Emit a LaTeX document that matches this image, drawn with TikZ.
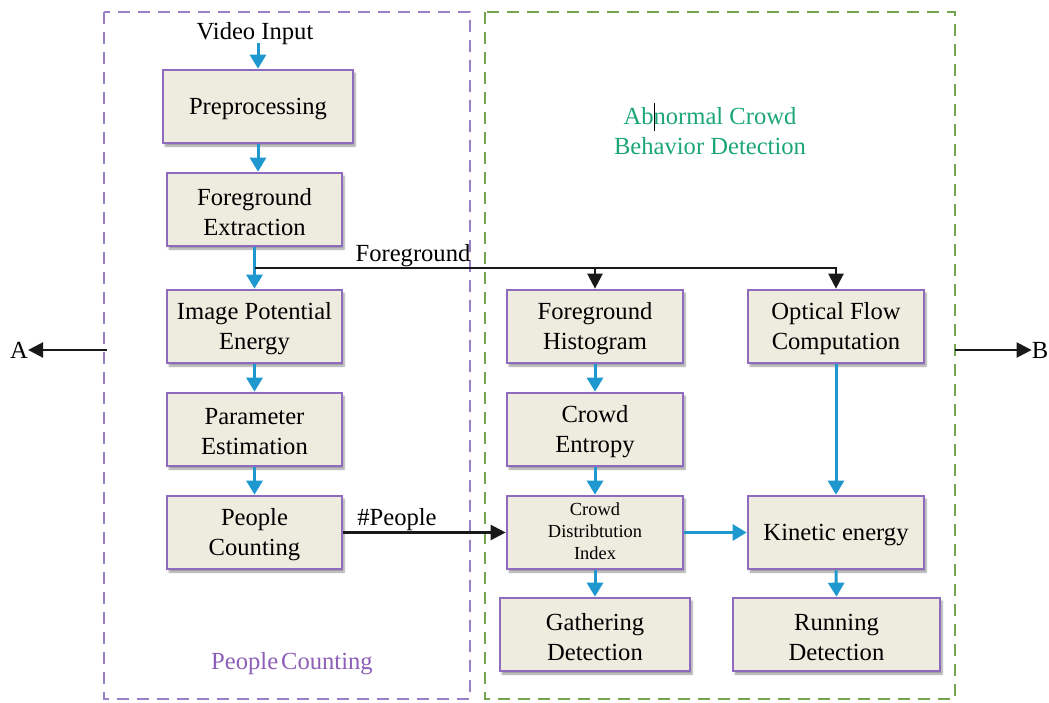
\documentclass[tikz,border=0pt]{standalone}
\usepackage{fontspec}
\setmainfont{Liberation Serif}
\usetikzlibrary{arrows.meta,shadows.blur}
\definecolor{boxfill}{HTML}{EEEBDF}
\definecolor{boxline}{HTML}{8F6BBF}
\definecolor{purpdash}{HTML}{9A80C6}
\definecolor{greendash}{HTML}{76A552}
\definecolor{flowblue}{HTML}{1E98CF}
\definecolor{titlegreen}{HTML}{1BA67A}
\definecolor{titlepurple}{HTML}{8E5FB8}
\tikzset{
  stagebox/.style={draw=boxline, line width=2.7pt, fill=boxfill, inner sep=0pt,
    minimum height=73pt,
    blur shadow={shadow xshift=2pt, shadow yshift=-3pt, shadow blur steps=6, shadow opacity=40}},
  stagetext/.style={align=center, inner sep=0pt, font=\fontsize{24.6}{30}\selectfont},
  group/.style={dashed, dash pattern=on 12pt off 8pt, line width=2.2pt},
  flow/.style={draw=flowblue, line width=3pt, -{Triangle[width=16pt,length=14pt]}},
  link/.style={draw=black!90, line width=2.4pt, -{Triangle[width=15pt,length=15pt]}},
  lbl/.style={font=\fontsize{24.6}{30}\selectfont, inner sep=0pt}
}
% a process box with its caption: [caption shift]{name}{width}{centre}{text}
\newcommand\stagenode[5][yshift=-2.5pt]{%
  \node[stagebox, minimum width=#3] (#2) at (#4) {};
  \node[stagetext, #1] (#2-txt) at (#2.center) {#5};}
\begin{document}
\begin{tikzpicture}[x=1pt,y=-1pt]
\useasboundingbox (0,0) rectangle (1049,702);

% dashed group frames
\draw[group, draw=purpdash] (104,12) rectangle (470,699);
\draw[group, draw=greendash] (485,12) rectangle (955,699);

% group titles
\node[lbl, text=titlepurple] (pctitle) at (292,664) {People\hspace{3pt}Counting};
\node[lbl, text=titlegreen, align=center] (abtitle) at (710,131) {Abnormal Crowd\\Behavior Detection};
\draw[black, line width=0.8pt] (654,103) -- (654,131);

% people counting column
\node[lbl] (vin) at (255,34) {Video Input};
\stagenode{pre}{190pt}{258,106.5}{Preprocessing}
\stagenode{fge}{175pt}{254.5,209.5}{Foreground\\Extraction}
\stagenode{ipe}{175pt}{254.5,326.5}{Image Potential\\Energy}
\stagenode{pes}{175pt}{254.5,429.5}{Parameter\\Estimation}
\stagenode{pcn}{175pt}{254.5,532.5}{People\\Counting}

% abnormal behaviour columns
\stagenode{fgh}{176pt}{595,326.5}{Foreground\\Histogram}
\stagenode{ofc}{176pt}{836,326.5}{Optical Flow\\Computation}
\stagenode{cen}{176pt}{595,429.5}{Crowd\\Entropy}
\stagenode[yshift=1.5pt, font=\fontsize{18.4}{22}\selectfont]{cdi}{176pt}{595,532.5}{Crowd\\Distribtution\\Index}
\stagenode{kin}{176pt}{836,532.5}{Kinetic energy}
\stagenode{gat}{190pt}{595,634.5}{Gathering\\Detection}
\stagenode{run}{207pt}{836.5,634.5}{Running\\Detection}

% outer references
\node[lbl] (na) at (19,350) {A};
\node[lbl] (nb) at (1040,350) {B};
\coordinate (aout) at (107,350);
\coordinate (bout) at (955,350);
\draw[link] (aout) -- (na.east);
\draw[link] (bout) -- (nb.west);

% main flow
\coordinate (vtop) at (258,43);
\draw[flow] (vtop) -- (pre.north);
\draw[flow] (pre.south) -- (pre.south |- fge.north);
\draw[flow] (fge.south) -- (ipe.north);
\draw[flow] (ipe.south) -- (pes.north);
\draw[flow] (pes.south) -- (pcn.north);

% foreground branch
\coordinate (fgj) at (254.5,268);
\draw[link] (fgj) -| (fgh.north);
\draw[link] (fgj) -| (ofc.north);
\node[lbl, anchor=base] (fglbl) at (413,261) {Foreground};

% people count to distribution index
\draw[link] (pcn.east) -- (cdi.west);
\node[lbl, anchor=base] (nplbl) at (397,525) {\#People};

% behaviour flow
\draw[flow] (fgh.south) -- (cen.north);
\draw[flow] (cen.south) -- (cdi.north);
\draw[flow] (cdi.south) -- (gat.north);
\draw[flow] (cdi.east) -- (kin.west);
\draw[flow] (ofc.south) -- (kin.north);
\draw[flow] (kin.south) -- (run.north);
\end{tikzpicture}
\end{document}
